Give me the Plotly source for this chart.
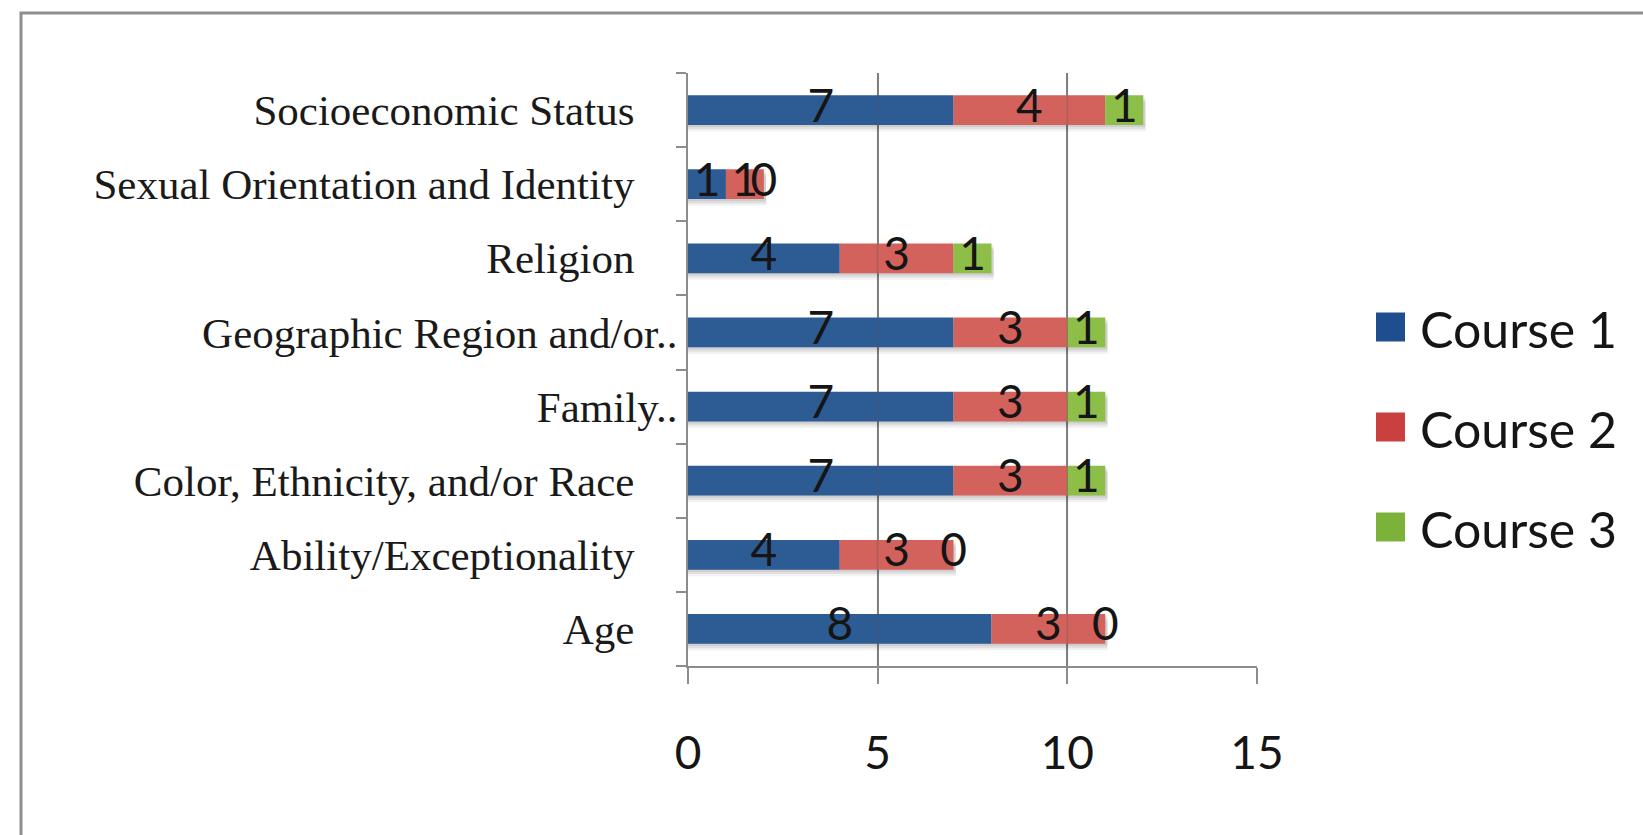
import plotly.graph_objects as go

# Diversity categories (bottom to top as drawn on the category axis)
categories = [
    "Age",
    "Ability/Exceptionality",
    "Color, Ethnicity, and/or Race",
    "Family..",
    "Geographic Region and/or..",
    "Religion",
    "Sexual Orientation and Identity",
    "Socioeconomic Status",
]
series_names = ["Course 1", "Course 2", "Course 3"]
course1 = [8, 4, 7, 7, 7, 4, 1, 7]
course2 = [3, 3, 3, 3, 3, 3, 1, 4]
course3 = [0, 0, 1, 1, 1, 1, 0, 1]
x_ticks = [0, 5, 10, 15]

colors = ["#2D5B93", "#D3625D", "#8DBE47"]
legend_colors = ["#1F4E8F", "#C9403F", "#7DB23A"]
grid_col = "#8C8C8C"

# truncated labels sit closer to the axis; pad the others with no-break spaces
labels = [c if c.endswith("..") else c + "\u00a0" * 4 for c in categories]

W, H = 1643, 835
L, R, T, B = 688, 1643 - 1257, 73, 835 - 666
pw, ph = W - L - R, H - T - B


def px_x(px):
    return (px - L) / pw


def px_y(py):
    return (H - B - py) / ph


fig = go.Figure()

series = [course1, course2, course3]
bases = []
run = [0] * len(categories)
for vals in series:
    bases.append(list(run))
    run = [r + v for r, v in zip(run, vals)]
totals = run

# soft drop shadow under each stacked bar
for off, alpha in [(-0.29, 0.05), (-0.26, 0.07), (-0.23, 0.08)]:
    fig.add_trace(go.Bar(
        y=labels, x=[t + 0.06 for t in totals], base=[0] * len(categories),
        orientation="h", width=0.4, offset=off,
        marker=dict(color=f"rgba(0,0,0,{alpha})", line_width=0),
        showlegend=False, hoverinfo="skip",
    ))

for name, vals, base, col in zip(series_names, series, bases, colors):
    fig.add_trace(go.Bar(
        y=labels, x=vals, base=base, orientation="h", name=name,
        width=0.4, offset=-0.2, marker=dict(color=col, line_width=0),
        showlegend=False,
    ))

# value labels centred on each segment
for vals, base in zip(series, bases):
    fig.add_trace(go.Scatter(
        y=labels, x=[b + v / 2 for b, v in zip(base, vals)],
        text=[str(v) for v in vals], mode="text", textposition="middle center",
        textfont=dict(family="Lato", size=46, color="#151515"),
        showlegend=False, hoverinfo="skip",
    ))

# faint gridlines showing through the bars
for t in x_ticks[1:-1]:
    fig.add_shape(
        type="line", xref="x", yref="paper", x0=t, x1=t, y0=0, y1=1,
        line=dict(color="rgba(90,90,90,0.35)", width=1.5), layer="above",
    )

# legend: large square swatches with labels
for i, (name, col) in enumerate(zip(series_names, legend_colors)):
    cy = 327 + i * 100
    fig.add_shape(
        type="rect", xref="paper", yref="paper",
        x0=px_x(1376), x1=px_x(1405), y0=px_y(cy + 14.5), y1=px_y(cy - 14.5),
        line_width=0, fillcolor=col,
    )
    fig.add_annotation(
        xref="paper", yref="paper", x=px_x(1418), y=px_y(cy + 2),
        xanchor="left", yanchor="middle", text=name, showarrow=False,
        font=dict(family="Lato", size=50, color="#151515"),
    )

# outer chart frame
fig.add_shape(
    type="rect", xref="paper", yref="paper",
    x0=px_x(21), x1=px_x(1660), y0=px_y(850), y1=px_y(13),
    line=dict(color="#8E8E8E", width=3), fillcolor="rgba(0,0,0,0)", layer="below",
)

fig.update_layout(
    width=W, height=H,
    margin=dict(l=L, r=R, t=T, b=B, autoexpand=False),
    paper_bgcolor="white", plot_bgcolor="white",
    barmode="overlay", showlegend=False,
    xaxis=dict(
        range=[0, 15], tickvals=x_ticks, ticktext=[str(t) for t in x_ticks],
        showgrid=True, gridcolor=grid_col, gridwidth=1.5,
        zeroline=False, showline=True, linecolor=grid_col, linewidth=2,
        ticks="outside", ticklen=16, tickcolor=grid_col, tickwidth=2,
        ticklabelstandoff=30,
        tickfont=dict(family="Lato", size=46, color="#151515"),
    ),
    yaxis=dict(
        type="category", categoryorder="array", categoryarray=labels,
        range=[-0.5, 7.5], tickson="boundaries",
        showgrid=False, zeroline=False, showline=True, linecolor=grid_col, linewidth=2,
        ticks="outside", ticklen=10, tickcolor=grid_col, tickwidth=2,
        ticklabelstandoff=0,
        tickfont=dict(family="Liberation Serif", size=43, color="#1A1A1A"),
    ),
)

fig.write_html("out.html")
